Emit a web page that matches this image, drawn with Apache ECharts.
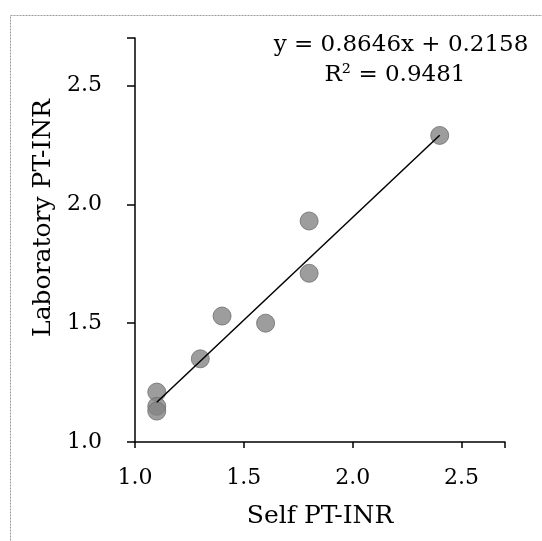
<!DOCTYPE html>
<html>
<head>
<meta charset="utf-8">
<script src="https://cdn.jsdelivr.net/npm/echarts@6/dist/echarts.min.js"></script>
<style>html,body{margin:0;padding:0;background:#fff}#c{width:542px;height:541px}</style>
</head>
<body>
<div id="c"></div>
<script>
const selfInr = [1.1, 1.1, 1.1, 1.3, 1.4, 1.6, 1.8, 1.8, 2.4];
const labInr  = [1.21, 1.15, 1.13, 1.35, 1.53, 1.50, 1.93, 1.71, 2.29];
const trendX = [1.1, 2.4];
const trendY = [1.167, 2.291];
const xTicks = ['1.0', '1.5', '2.0', '2.5'];
const yTicks = ['1.0', '1.5', '2.0', '2.5'];
const equationLines = ['y = 0.8646x + 0.2158', 'R\u00b2 = 0.9481'];

const font = '"DejaVu Serif", "Liberation Serif", serif';
const chart = echarts.init(document.getElementById('c'), null, {renderer: 'canvas'});
chart.setOption({
  animation: false,
  backgroundColor: '#fff',
  grid: {left: 135, right: 37, top: 38, bottom: 99},
  xAxis: {
    type: 'value', min: 1.0, max: 2.7, interval: 0.5,
    name: 'Self PT-INR', nameLocation: 'middle', nameGap: 62,
    nameTextStyle: {fontFamily: font, fontSize: 25, color: '#000'},
    axisLine: {show: true, lineStyle: {color: '#000', width: 1.5}},
    axisTick: {show: true, inside: false, length: 6, lineStyle: {color: '#000', width: 1.5}},
    axisLabel: {fontFamily: font, fontSize: 22, color: '#000', margin: 25,
      formatter: v => { const i = Math.round((v - 1.0) / 0.5); return (Math.abs(v - (1.0 + i*0.5)) < 1e-6 && i < xTicks.length) ? xTicks[i] : ''; }},
    splitLine: {show: false}
  },
  yAxis: {
    type: 'value', min: 1.0, max: 2.7, interval: 0.5,
    name: 'Laboratory PT-INR', nameLocation: 'middle', nameGap: 78,
    nameTextStyle: {fontFamily: font, fontSize: 25, color: '#000', padding: [0, 0, 0, 44]},
    axisLine: {show: true, lineStyle: {color: '#000', width: 1.5}},
    axisTick: {show: true, inside: false, length: 8, lineStyle: {color: '#000', width: 1.5}},
    axisLabel: {fontFamily: font, fontSize: 22, color: '#000', margin: 33,
      formatter: v => { const i = Math.round((v - 1.0) / 0.5); return (Math.abs(v - (1.0 + i*0.5)) < 1e-6 && i < yTicks.length) ? yTicks[i] : ''; }},
    splitLine: {show: false}
  },
  graphic: [
    {type: 'rect', silent: true, z: -1, shape: {x: 10.5, y: 15.5, width: 540, height: 540},
      style: {fill: 'none', stroke: '#999', lineWidth: 1, lineDash: [2, 1]}},
    {type: 'text', x: 401, y: 45, style: {text: equationLines[0], font: '23px ' + font, fill: '#000', align: 'center', verticalAlign: 'middle'}},
    {type: 'text', x: 395, y: 75, style: {text: equationLines[1], font: '23px ' + font, fill: '#000', align: 'center', verticalAlign: 'middle'}}
  ],
  series: [
    {
      type: 'scatter', symbol: 'circle', symbolSize: 18,
      itemStyle: {color: '#858585', borderColor: '#6e6e6e', borderWidth: 1},
      data: selfInr.map((x, i) => [x, labInr[i]]), z: 2
    },
    {
      type: 'line', symbol: 'none', silent: true,
      lineStyle: {color: '#000', width: 1.5},
      data: trendX.map((x, i) => [x, trendY[i]]), z: 3
    }
  ]
});
</script>
</body>
</html>
